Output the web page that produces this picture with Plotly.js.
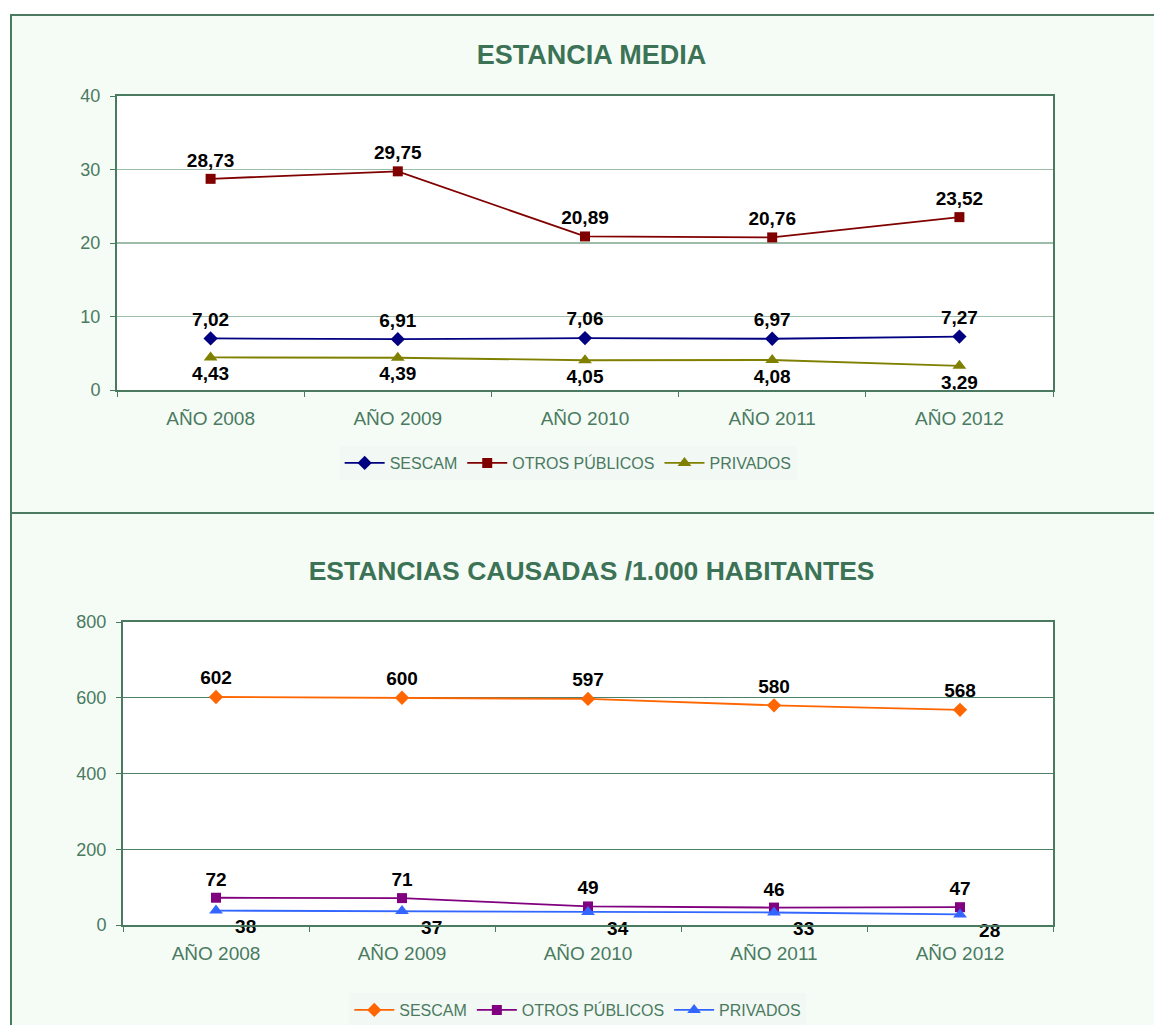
<!DOCTYPE html>
<html>
<head>
<meta charset="utf-8">
<script src="https://cdn.plot.ly/plotly-3.0.1.min.js"></script>
<style>
html,body{margin:0;padding:0;background:#ffffff;overflow:hidden;width:1154px;height:1025px;}
#p1{position:absolute;left:10px;top:14px;width:1150px;height:496px;border:2px solid #4A7A60;}
#p2{position:absolute;left:10px;top:514px;width:1150px;height:520px;border-left:2px solid #4A7A60;border-right:2px solid #4A7A60;}
</style>
</head>
<body>
<div id="p1"></div>
<div id="p2"></div>
<script>
// ---- Data ----
const years = ["AÑO 2008", "AÑO 2009", "AÑO 2010", "AÑO 2011", "AÑO 2012"];
const seriesNames = ["SESCAM", "OTROS PÚBLICOS", "PRIVADOS"];

// Estancia media
const emSescam = [7.02, 6.91, 7.06, 6.97, 7.27];
const emOtros = [28.73, 29.75, 20.89, 20.76, 23.52];
const emPrivados = [4.43, 4.39, 4.05, 4.08, 3.29];

// Estancias causadas / 1.000 habitantes
const ecSescam = [602, 600, 597, 580, 568];
const ecOtros = [72, 71, 49, 46, 47];
const ecPrivados = [38, 37, 34, 33, 28];

const title1 = "ESTANCIA MEDIA";
const title2 = "ESTANCIAS CAUSADAS /1.000 HABITANTES";

// ---- Styling ----
const green = "#4A7A60";
const titleGreen = "#3C7255";
const paperBg = "#F5FCF6";
const font = "Liberation Sans, Arial, sans-serif";

function fmt2(v){ return v.toFixed(2).replace(".", ","); }
function fmt0(v){ return String(v); }

function trace(name, y, color, symbol, size, textpos, fmt, prefix){
  return {
    type: "scatter", mode: "lines+markers+text", x: years, y: y, name: name,
    line: {color: color, width: 1.8},
    marker: {color: color, symbol: symbol, size: size},
    text: y.map(v => (prefix || "") + fmt(v)), textposition: textpos,
    textfont: {family: font, size: 19, color: "#000000", weight: "bold"},
    cliponaxis: false, hoverinfo: "skip"
  };
}

function baseLayout(titleText, titleSize, titleY, yRange, dtick, gridColor, margin, legendX, legendY){
  return {
    width: 1150, height: margin.h,
    paper_bgcolor: paperBg, plot_bgcolor: "#ffffff",
    margin: {l: margin.l, r: margin.r, t: margin.t, b: margin.b},
    title: {text: "<b>" + titleText + "</b>", x: 0.504, xanchor: "center", y: titleY, yanchor: "middle", yref: "container",
            font: {family: font, size: titleSize, color: titleGreen}},
    showlegend: true,
    legend: {orientation: "h", x: legendX, xanchor: "center", y: legendY, yanchor: "middle", yref: "container",
             bgcolor: "#F2F8F4", font: {family: font, size: 16, color: green}, itemwidth: 40, tracegroupgap: 0},
    xaxis: {type: "category", range: [-0.5, 4.5], autorange: false, showline: true, linecolor: green, linewidth: 2, mirror: true,
            ticks: "outside", tickson: "boundaries", ticklen: 5, tickcolor: green, ticklabelstandoff: 10,
            tickfont: {family: font, size: 19, color: green}, showgrid: false, fixedrange: true},
    yaxis: {range: yRange, autorange: false, dtick: dtick, showline: true, linecolor: green, linewidth: 2, mirror: true,
            ticks: "outside", ticklen: 5, tickcolor: green, gridcolor: gridColor, gridwidth: 1.2, ticklabelstandoff: 6,
            zeroline: false, tickfont: {family: font, size: 18, color: green}, fixedrange: true}
  };
}

const data1 = [
  trace(seriesNames[0], emSescam, "#000080", "diamond", 11, "top center", fmt2),
  trace(seriesNames[1], emOtros, "#800000", "square", 10, "top center", fmt2),
  trace(seriesNames[2], emPrivados, "#808000", "triangle-up", 12, "bottom center", fmt2)
];
const layout1 = baseLayout(title1, 27, 1 - 39/496, [0, 40], 10, "#9DBCA9",
  {l: 105, r: 109, t: 80, b: 122, h: 496}, 0.482, 1 - 447/496);

const data2 = [
  trace(seriesNames[0], ecSescam, "#FF6600", "diamond", 11, "top center", fmt0),
  trace(seriesNames[1], ecOtros, "#800080", "square", 10, "top center", fmt0),
  trace(seriesNames[2], ecPrivados, "#3366FF", "triangle-up", 12, "bottom right", fmt0, "\u2007")
];
const layout2 = baseLayout(title2, 26.5, 1 - 57/520, [0, 800], 200, "#4E8068",
  {l: 111, r: 109, t: 108, b: 109, h: 520}, 0.489, 1 - 496/520);

Plotly.newPlot("p1", data1, layout1, {displayModeBar: false, staticPlot: true});
Plotly.newPlot("p2", data2, layout2, {displayModeBar: false, staticPlot: true});
</script>
</body>
</html>
